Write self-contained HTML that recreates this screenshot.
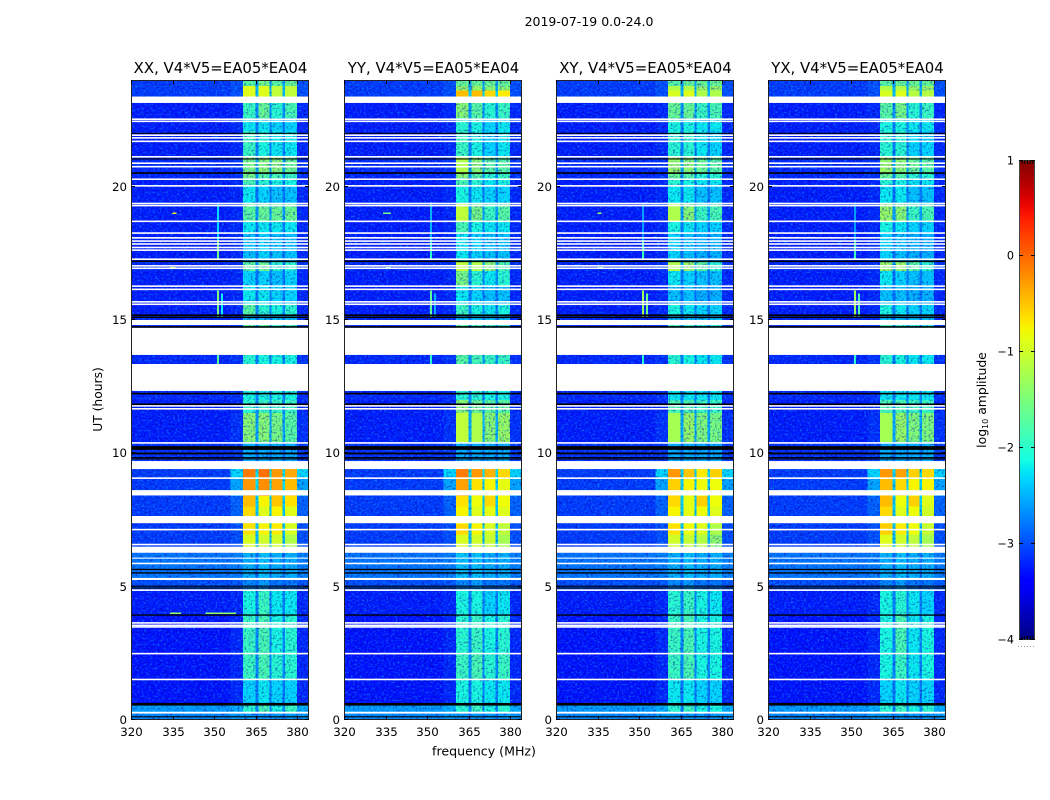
<!DOCTYPE html>
<html>
<head>
<meta charset="utf-8">
<title>2019-07-19 0.0-24.0</title>
<style>
html,body{margin:0;padding:0;background:#fff;}
svg{display:block;font-family:"DejaVu Sans","Liberation Sans",sans-serif;fill:#000;}
</style>
</head>
<body>
<svg id="chart" width="1050" height="800" viewBox="0 0 1050 800" xmlns="http://www.w3.org/2000/svg">
<defs>
<linearGradient id="jet" x1="0" y1="1" x2="0" y2="0"></linearGradient>
<filter id="speck" x="0" y="0" width="100%" height="100%" color-interpolation-filters="sRGB">
<feTurbulence type="fractalNoise" baseFrequency="0.45 0.5" numOctaves="2" seed="4" result="n"/>
<feColorMatrix in="n" type="matrix" values="0 0 0 0 0  0 0 0 0 0  0 0 0 0 .6  -4 0 0 0 2" result="dark"/>
<feColorMatrix in="n" type="matrix" values="0 0 0 0 .1  0 0 0 0 .7  0 0 0 0 1  0 3 0 0 -1.5" result="light"/>
<feMerge><feMergeNode in="dark"/><feMergeNode in="light"/></feMerge>
</filter>
</defs>
<text x="589" y="26" font-size="12.5" text-anchor="middle">2019-07-19 0.0-24.0</text>
<text x="484" y="755.5" font-size="12.6" text-anchor="middle">frequency (MHz)</text>
<text x="102" y="399.5" font-size="12.3" text-anchor="middle" transform="rotate(-90 102 399.5)">UT (hours)</text>
<text x="986" y="400" font-size="12.4" text-anchor="middle" transform="rotate(-90 986 400)">log<tspan font-size="8" dy="2">10</tspan><tspan dy="-2"> amplitude</tspan></text>
<g id="panels"></g>
<g id="colorbar"></g>
</svg>
<script>
const panelTitles = ["XX, V4*V5=EA05*EA04", "YY, V4*V5=EA05*EA04", "XY, V4*V5=EA05*EA04", "YX, V4*V5=EA05*EA04"];
const freqTicks = [320, 335, 350, 365, 380];
const hourTicks = [0, 5, 10, 15, 20];
const colorTicks = [1, 0, -1, -2, -3, -4];
const freqRange = [320, 384.3];
const hourRange = [0, 24];
const colorRange = [-4, 1];

// Frequency (MHz) edges of the four bright sub-bands.
const subbandStarts = [360.4, 366.0, 370.7, 375.7];
const subbandEnds = [364.9, 370.0, 374.8, 380.0];

// Time-block edges (hours, descending); one block between each neighbouring pair.
const blockEdges = [24, 23.78, 23.6, 23.14, 22.58, 22.09, 21.15, 20.51, 20.33, 20.06, 19.35, 18.71, 18.26, 17.21, 16.84, 16.28, 15.56, 15.15, 14.81, 13.69, 13.35, 12, 11.51, 10.43, 9.41, 9.09, 8.4, 8, 7.35, 6.95, 6.27, 5.31, 4.88, 3.9, 2.51, 1.5, 0.6, 0.3, 0];

// Off-band log10 amplitude per block, and the shoulder next to the band.
const backgroundLevels = [-3.1, -3.1, -3.1, -3.25, -3.25, -3.25, -3.2, -3.2, -3.25, -3.25, -3.25, -3.25, -3.25, -3.2, -3.25, -3.25, -3.25, -3.2, -3.2, -3.2, -3.2, -3.25, -3.25, -3.15, -3.1, -3.1, -3.1, -3.1, -3.1, -3.1, -2.8, -3, -3.25, -3.3, -3.3, -3.3, -2.6, -2.7];
const shoulderLevels = [-3, -3, -3, -3.2, -3.2, -3.2, -3.15, -3.15, -3.2, -3.2, -3.2, -3.2, -3.2, -3.15, -3.2, -3.2, -3.2, -3.15, -3.15, -3.15, -3.15, -3.2, -3.15, -3.1, -2.3, -2.55, -2.9, -2.9, -3, -3, -2.75, -2.95, -3.2, -3.2, -3.2, -3.2, -2.5, -2.6];

// Sub-band log10 amplitudes: one row per block, one column per sub-band.
const levelsXX = [[-1.7,-1.5,-1.7,-1.6],[-0.9,-0.9,-1.1,-1.1],[-0.9,-0.9,-1.1,-1.1],[-1.9,-1.6,-2,-1.8],[-2.2,-2.2,-2.3,-2.3],[-1.9,-2.1,-2.2,-2.2],[-1.5,-1.4,-1.4,-1.6],[-1.5,-1.7,-1.8,-1.9],[-1.8,-2,-2.1,-2.1],[-2.2,-2.3,-2.4,-2.4],[-1.7,-1.6,-1.6,-1.6],[-2.2,-2.2,-2.2,-2.2],[-2.4,-2.3,-2.4,-2.4],[-1.7,-1.6,-2,-2],[-2.3,-2.3,-2.4,-2.3],[-2.2,-2.2,-2.3,-2.3],[-1.7,-2,-2.1,-2],[-2.4,-2.4,-2.4,-2.4],[-1.7,-1.7,-2,-1.9],[-2,-2.1,-2.1,-2.1],[-2.1,-2.1,-2.1,-2.1],[-2,-1.9,-1.9,-1.9],[-1.4,-1.4,-1.5,-1.7],[-2.5,-2.5,-2.5,-2.5],[-0.1,-0.05,-0.25,-0.35],[-0.25,-0.2,-0.3,-0.45],[-0.45,-0.75,-0.5,-0.65],[-0.6,-0.9,-0.75,-0.9],[-0.65,-0.75,-0.7,-0.95],[-0.95,-1,-1,-1.2],[-2.5,-2.4,-2.5,-2.5],[-2.7,-2.6,-2.8,-2.8],[-2.1,-1.9,-2.2,-2.2],[-1.9,-1.8,-2.1,-2],[-1.9,-1.8,-2,-2],[-2.3,-2.2,-2.3,-2.3],[-2,-1.8,-2.1,-1.9],[-2.6,-2.6,-2.6,-2.6]];
const levelsYY = [[-1.6,-1.6,-1.6,-1.6],[-1.3,-1.3,-1.4,-1.4],[-0.45,-0.45,-0.6,-0.7],[-1.4,-1.7,-2,-1.9],[-2,-2.1,-2.3,-2.2],[-1.9,-2.1,-2.3,-2.2],[-1.2,-1.4,-1.7,-1.7],[-1.4,-1.7,-2,-1.9],[-1.8,-2,-2.2,-2.1],[-2.1,-2.2,-2.3,-2.3],[-1.1,-1.5,-1.9,-1.7],[-1.8,-2.1,-2.2,-2.2],[-2.2,-2.3,-2.4,-2.4],[-1.1,-1.2,-1.4,-1.8],[-1.5,-2,-2.2,-2],[-2.2,-2.3,-2.4,-2.4],[-1.9,-2.1,-2.2,-2.1],[-2.4,-2.4,-2.4,-2.4],[-1.7,-1.9,-2,-2],[-1.7,-1.8,-1.9,-1.9],[-2,-2,-2.1,-2.1],[-1.4,-1.6,-1.7,-1.7],[-1.1,-1.2,-1.4,-1.3],[-2.5,-2.5,-2.5,-2.5],[-0.1,-0.25,-0.4,-0.6],[-0.3,-0.65,-0.75,-0.85],[-0.65,-0.8,-0.6,-0.8],[-0.75,-0.9,-0.85,-0.9],[-0.6,-0.75,-0.95,-1.1],[-0.95,-1,-1.05,-1.25],[-2.4,-2.4,-2.5,-2.5],[-2.7,-2.6,-2.8,-2.8],[-2.1,-2.1,-2.3,-2.2],[-2,-1.9,-2.1,-2],[-1.9,-1.8,-2,-1.9],[-2.1,-2.1,-2.2,-2.2],[-2,-1.9,-2.1,-2],[-2.6,-2.6,-2.6,-2.6]];
const levelsXY = [[-1.7,-1.6,-1.6,-1.6],[-1.2,-1.2,-1.3,-1.3],[-0.95,-0.9,-1.2,-1.2],[-1.6,-1.6,-1.9,-1.8],[-2.1,-2.1,-2.2,-2.2],[-2,-2,-2.2,-2.3],[-1.3,-1.4,-1.6,-1.7],[-1.6,-1.7,-2,-2],[-2,-2.1,-2.2,-2.2],[-2.2,-2.2,-2.4,-2.4],[-1.2,-1.4,-1.9,-1.8],[-2.1,-2.2,-2.3,-2.3],[-2.3,-2.4,-2.5,-2.5],[-1.2,-1.3,-1.7,-2],[-2.2,-2.3,-2.4,-2.4],[-2.4,-2.4,-2.5,-2.5],[-2.1,-2.2,-2.3,-2.3],[-2.4,-2.4,-2.4,-2.4],[-1.9,-2,-2.1,-2.1],[-2,-2.1,-2.2,-2.2],[-2.2,-2.2,-2.2,-2.2],[-1.8,-1.8,-1.9,-1.9],[-1.25,-1.3,-1.45,-1.5],[-2.5,-2.5,-2.5,-2.5],[-0.25,-0.5,-0.7,-0.55],[-0.55,-0.75,-0.8,-0.8],[-0.6,-0.85,-0.55,-0.8],[-0.75,-0.85,-0.8,-0.9],[-0.65,-0.8,-0.9,-1.2],[-1,-1.05,-1.15,-1.35],[-2.5,-2.4,-2.5,-2.5],[-2.7,-2.6,-2.8,-2.8],[-2,-1.9,-2.1,-2.2],[-1.9,-1.8,-2.1,-2.1],[-1.9,-1.8,-2.1,-2.1],[-2.2,-2.2,-2.3,-2.3],[-2,-1.9,-2.1,-2.1],[-2.6,-2.6,-2.6,-2.6]];
const levelsYX = [[-1.7,-1.6,-1.6,-1.6],[-1.2,-1.2,-1.3,-1.3],[-0.95,-0.9,-1.15,-1.15],[-1.7,-1.5,-2,-1.9],[-2.1,-2.1,-2.2,-2.2],[-2,-2,-2.3,-2.3],[-1.3,-1.4,-1.6,-1.7],[-1.6,-1.7,-2,-2],[-2,-2.1,-2.2,-2.2],[-2.2,-2.2,-2.4,-2.4],[-1.3,-1.4,-1.9,-1.8],[-2.1,-2.2,-2.3,-2.3],[-2.3,-2.4,-2.5,-2.5],[-1.3,-1.3,-1.7,-2],[-2.2,-2.3,-2.4,-2.4],[-2.4,-2.4,-2.5,-2.5],[-2.1,-2.2,-2.3,-2.3],[-2.4,-2.4,-2.4,-2.4],[-1.9,-2,-2.1,-2.1],[-2,-2.1,-2.2,-2.2],[-2.2,-2.2,-2.2,-2.2],[-1.8,-1.8,-1.9,-1.9],[-1.25,-1.3,-1.45,-1.45],[-2.5,-2.5,-2.5,-2.5],[-0.25,-0.3,-0.55,-0.6],[-0.45,-0.6,-0.75,-0.75],[-0.45,-0.8,-0.55,-0.9],[-0.6,-0.9,-0.8,-1],[-0.55,-0.7,-0.8,-1.05],[-0.9,-1,-1.1,-1.25],[-2.5,-2.4,-2.5,-2.5],[-2.7,-2.6,-2.8,-2.8],[-2.1,-2,-2.2,-2.3],[-2.1,-1.8,-2.2,-2.1],[-2.1,-1.9,-2.2,-2.1],[-2.3,-2.2,-2.3,-2.3],[-2,-1.9,-2.1,-2],[-2.6,-2.6,-2.6,-2.6]];

// Vertical interference tracks (per polarisation level).
const rfiFreqs = [351, 351, 351, 351, 352.6];
const rfiStarts = [19.4, 18, 16.1, 13.69, 16];
const rfiEnds = [18, 17.3, 15.1, 13.35, 15.1];
const rfiLevelsXX = [-2.3, -1.6, -1.5, -1.7, -2.2];
const rfiLevelsYY = [-2.5, -2.0, -1.7, -2.0, -2.5];
const rfiLevelsXY = [-2.6, -1.9, -1.3, -2.0, -1.6];
const rfiLevelsYX = [-2.6, -1.9, -1.3, -2.0, -1.8];

// Horizontal interference tracks.
const burstPanels = [0, 0, 0, 0, 1, 1, 2, 2];
const burstHours = [4, 4, 19, 16.95, 19, 16.95, 19, 16.95];
const burstFroms = [334, 347, 335, 334, 334, 335, 335, 335];
const burstTos = [338, 358, 336.5, 336, 337, 337, 336.5, 337];
const burstLevels = [-1.4, -1.4, -0.8, -1.2, -1.6, -1.6, -1.4, -1.6];

// Flagged (white) and dropped (black) intervals, hours.
const whiteStarts = [23.38, 22.56, 22.48, 21.96, 21.86, 21.73, 21.15, 20.91, 20.78, 20.31, 20.06, 19.4, 19.32, 18.73, 18.29, 18.11, 17.99, 17.88, 17.75, 17.65, 17.31, 17.06, 16.97, 16.3, 16.18, 15.71, 15.62, 15, 14.71, 13.35, 11.81, 11.7, 10.42, 9.71, 9.1, 8.62, 7.65, 7.17, 6.61, 6.5, 6.09, 5.9, 5.33, 4.9, 3.67, 3.58, 3.52, 2.52, 1.55, 0.31];
const whiteEnds = [23.14, 22.5, 22.42, 21.9, 21.8, 21.67, 21.09, 20.85, 20.72, 20.25, 20, 19.34, 19.26, 18.67, 18.23, 18.05, 17.93, 17.82, 17.69, 17.59, 17.25, 17, 16.91, 16.24, 16.12, 15.65, 15.56, 14.81, 13.69, 12.34, 11.75, 11.64, 10.36, 9.41, 9.04, 8.42, 7.38, 7.11, 6.55, 6.27, 6.05, 5.84, 5.25, 4.84, 3.61, 3.52, 3.46, 2.46, 1.49, 0.24];
const blackStarts = [22.02, 21.06, 20.54, 17.23, 15.21, 15.13, 14.77, 12.27, 11.87, 10.27, 10.03, 9.86, 9.81, 5.67, 5.54, 5.04, 4.97, 3.96, 0.64, 0.14];
const blackEnds = [21.98, 21.02, 20.48, 17.17, 15.15, 15.07, 14.71, 12.21, 11.81, 10.13, 9.96, 9.82, 9.77, 5.62, 5.49, 5, 4.93, 3.91, 0.54, 0.1];

const panelLevels = [levelsXX, levelsYY, levelsXY, levelsYX];
const panelRfi = [rfiLevelsXX, rfiLevelsYY, rfiLevelsXY, rfiLevelsYX];
const panelLefts = [131, 344, 556, 768];
const panelWidth = 178;
const plotTop = 80;
const plotBottom = 720;
const barLeft = 1019;
const barRight = 1035;
const barTop = 160;
const barBottom = 640;
const NS = "http://www.w3.org/2000/svg";

function yScale(h) { return plotBottom - (h - hourRange[0]) / (hourRange[1] - hourRange[0]) * (plotBottom - plotTop); }
function xScale(left, f) { return left + (f - freqRange[0]) / (freqRange[1] - freqRange[0]) * panelWidth; }
function barScale(v) { return barBottom - (v - colorRange[0]) / (colorRange[1] - colorRange[0]) * (barBottom - barTop); }
function ramp(t, pts) {
  for (let i = 1; i < pts.length; i++) {
    if (t <= pts[i][0]) {
      const a = pts[i - 1], b = pts[i];
      return a[1] + (b[1] - a[1]) * (t - a[0]) / (b[0] - a[0]);
    }
  }
  return pts[pts.length - 1][1];
}
function jet(t) {
  const r = ramp(t, [[0, 0], [0.35, 0], [0.66, 1], [0.89, 1], [1, 0.5]]);
  const g = ramp(t, [[0, 0], [0.125, 0], [0.375, 1], [0.64, 1], [0.91, 0], [1, 0]]);
  const b = ramp(t, [[0, 0.5], [0.11, 1], [0.34, 1], [0.65, 0], [1, 0]]);
  return "rgb(" + Math.round(r * 255) + "," + Math.round(g * 255) + "," + Math.round(b * 255) + ")";
}
function colorOf(v) {
  const t = (v - colorRange[0]) / (colorRange[1] - colorRange[0]);
  return jet(Math.max(0, Math.min(1, t)));
}
function make(tag, parent, attrs) {
  const el = document.createElementNS(NS, tag);
  for (const k in attrs) el.setAttribute(k, attrs[k]);
  parent.appendChild(el);
  return el;
}
function rectBetween(parent, x1, x2, h1, h2, fill, smooth) {
  const y1 = yScale(h1), y2 = yScale(h2);
  return make("rect", parent, { x: x1, y: y1, width: x2 - x1, height: y2 - y1, fill: fill, "shape-rendering": smooth ? "geometricPrecision" : "crispEdges" });
}

const panelsRoot = document.getElementById("panels");
panelTitles.forEach(function (title, p) {
  const left = panelLefts[p];
  const right = left + panelWidth;
  const levels = panelLevels[p];
  const panel = make("g", panelsRoot, {});
  
  
  const under = make("g", panel, {});
  
  
  const noise = make("rect", panel, { x: left, y: plotTop, width: panelWidth, height: plotBottom - plotTop, filter: "url(#speck)", opacity: 0.5 });
  
  
  const over = make("g", panel, {});
  
  

  levels.forEach(function (row, b) {
    const h1 = blockEdges[b], h2 = blockEdges[b + 1];
    const bg = rectBetween(under, left, right, h1, h2, colorOf(backgroundLevels[b]));
    
    
    const shL = rectBetween(under, xScale(left, 356), xScale(left, subbandStarts[0]), h1, h2, colorOf(shoulderLevels[b]));
    
    
    const shR = rectBetween(under, xScale(left, subbandEnds[3]), right, h1, h2, colorOf(shoulderLevels[b]));
    
    
    const mean = (row[0] + row[1] + row[2] + row[3]) / 4;
    const gapLevel = -2.85 + (mean + 2.5) * 0.28;
    const gap = rectBetween(under, xScale(left, subbandStarts[0]), xScale(left, subbandEnds[3]), h1, h2, colorOf(gapLevel));
    
    
    row.forEach(function (v, s) {
      const cell = rectBetween(v > -1.3 ? over : under, xScale(left, subbandStarts[s]), xScale(left, subbandEnds[s]), h1, h2, colorOf(v));
      
      
    });
  });

  rfiFreqs.forEach(function (f, i) {
    const rfi = rectBetween(over, xScale(left, f), xScale(left, f) + 2, rfiStarts[i], rfiEnds[i], colorOf(panelRfi[p][i]));
    
    
  });
  burstPanels.forEach(function (bp, i) {
    if (bp !== p) return;
    const burst = rectBetween(over, xScale(left, burstFroms[i]), xScale(left, burstTos[i]), burstHours[i] + 0.03, burstHours[i] - 0.03, colorOf(burstLevels[i]));
    
    
  });
  whiteStarts.forEach(function (h, i) {
    const flag = rectBetween(over, left, right, h, whiteEnds[i], "#fff", true);
    
    
  });
  blackStarts.forEach(function (h, i) {
    const drop = rectBetween(over, left, right, h, blackEnds[i], "#000", true);
    
    
  });

  const frame = make("rect", panel, { x: left + 0.5, y: plotTop + 0.5, width: panelWidth - 1, height: plotBottom - plotTop - 1, fill: "none", stroke: "#222", "stroke-width": 1 });
  
  

  const titleEl = make("text", panel, { x: left + panelWidth / 2 + 0.5, y: plotTop - 7, "font-size": 14.9, "text-anchor": "middle" });
  titleEl.textContent = title;
  
  

  freqTicks.forEach(function (f) {
    const x = Math.round(xScale(left, f)) + 0.5;
    const tickB = make("line", panel, { x1: x, x2: x, y1: plotBottom, y2: plotBottom - 4, stroke: "#000" });
    
    
    const tickT = make("line", panel, { x1: x, x2: x, y1: plotTop, y2: plotTop + 4, stroke: "#000" });
    
    
    const label = make("text", panel, { x: x, y: plotBottom + 16, "font-size": 11.8, "text-anchor": "middle" });
    label.textContent = f;
    
    
  });
  hourTicks.forEach(function (h) {
    const y = Math.round(yScale(h)) - 0.5;
    const tickL = make("line", panel, { x1: left, x2: left + 4, y1: y, y2: y, stroke: "#000" });
    
    
    const tickR = make("line", panel, { x1: right, x2: right - 4, y1: y, y2: y, stroke: "#000" });
    
    
    const label = make("text", panel, { x: left - 4, y: y + 4.5, "font-size": 11.8, "text-anchor": "end" });
    label.textContent = h;
    
    
  });
});

const grad = document.getElementById("jet");
for (let i = 0; i <= 40; i++) {
  const stop = make("stop", grad, { offset: (i / 40 * 100) + "%", "stop-color": jet(i / 40) });
  
  
}
const cb = document.getElementById("colorbar");
const barRect = make("rect", cb, { x: barLeft + 0.5, y: barTop + 0.5, width: barRight - barLeft - 1, height: barBottom - barTop - 1, fill: "url(#jet)", stroke: "#444", "stroke-width": 1 });


colorTicks.forEach(function (v) {
  const y = Math.round(barScale(v)) + (v === colorRange[1] ? 0.5 : -0.5);
  const tL = make("line", cb, { x1: barLeft, x2: barLeft + 4, y1: y, y2: y, stroke: "#000" });
  
  
  const tR = make("line", cb, { x1: barRight, x2: barRight - 4, y1: y, y2: y, stroke: "#000" });
  
  
  const label = make("text", cb, { x: barLeft - 5, y: y + 4, "font-size": 11.2, "text-anchor": "end" });
  label.textContent = v < 0 ? "\u2212" + Math.abs(v) : String(v);
  
  
});
for (let i = 1; i < 6; i++) {
  const x = barLeft + i * (barRight - barLeft) / 6 + 0.5;
  const hatchTop = make("line", cb, { x1: x, x2: x, y1: barTop, y2: barTop + 4, stroke: "#000" });
  
  
  const hatchBottom = make("line", cb, { x1: x, x2: x, y1: barBottom, y2: barBottom - 4, stroke: "#000" });
  
  
}
const dots = make("line", cb, { x1: barLeft - 1, x2: barRight, y1: 646.5, y2: 646.5, stroke: "#999", "stroke-dasharray": "1 2" });


</script>
</body>
</html>
